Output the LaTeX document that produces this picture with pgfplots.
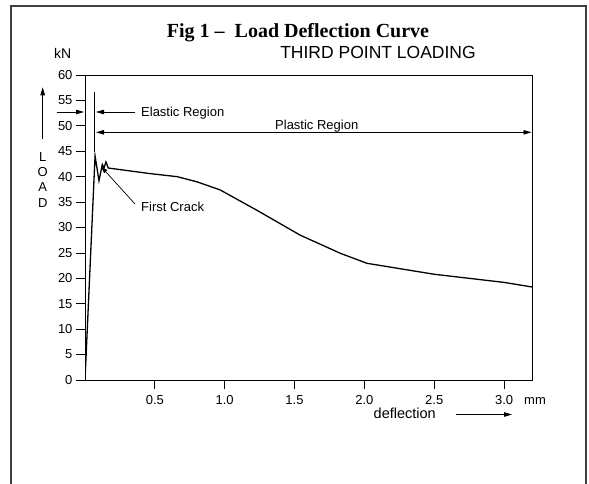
\documentclass[border=0pt]{standalone}
\usepackage{pgfplots}
\pgfplotsset{compat=1.18}
\usepackage{fontspec}
\setmainfont{Liberation Sans}
\newfontfamily\titlefont{Liberation Serif}
\usetikzlibrary{arrows.meta}

% load-deflection readings (mm, kN)
\pgfplotstableread{
x      y
0      0
0.072  44.1
0.100  39.2
0.124  42.4
0.136  41.7
0.150  42.9
0.167  41.7
0.466  40.6
0.660  40.0
0.800  39.0
0.967  37.4
1.230  33.4
1.540  28.5
1.830  24.9
2.020  22.95
2.500  20.8
3.000  19.2
3.200  18.3
}\loaddefl

\tikzset{tip/.style={-{Triangle[length=8pt,width=4.5pt]}}}

\begin{document}
\begin{tikzpicture}[x=1pt,y=1pt]
\useasboundingbox (0,0) rectangle (589,483);
\fill[white] (0,0) rectangle (589,483);
\draw[line width=2.4pt, black!75] (11,-10) -- (11,477) -- (586,477) -- (586,-10);

\begin{axis}[
  at={(85pt,103pt)}, anchor=south west,
  scale only axis, width=447pt, height=305pt,
  xmin=0, xmax=3.2, ymin=0, ymax=60,
  xtick={0.5,1,...,3}, ytick={0,5,...,60},
  xticklabel style={/pgf/number format/.cd,fixed,fixed zerofill,precision=1},
  xticklabel shift=3pt,
  /pgf/number format/assume math mode=true,
  tick align=outside, major tick length=9pt,
  xtick pos=bottom, ytick pos=left,
  tick style={black, line width=0.8pt},
  axis line style={line width=0.8pt},
  ticklabel style={font=\fontsize{13}{15}\selectfont},
]
\addplot[black, line width=1.3pt] table[x=x,y=y] {\loaddefl};
\end{axis}

\begin{scope}[shift={(0,483)}, y=-1pt]
  % title block
  \node[font=\titlefont\bfseries\fontsize{20}{23}\selectfont, anchor=base] at (298,38) {Fig 1 –\ \ Load Deflection Curve};
  \node[font=\fontsize{17.5}{20}\selectfont, anchor=base] at (378,59) {THIRD POINT LOADING};
  \node[font=\fontsize{14}{16}\selectfont, anchor=base west, inner sep=0] at (54,58.5) {kN};
  % LOAD with arrow
  \draw[line width=0.8pt, tip] (42.7,139) -- (42.7,87.3);
  \foreach \c/\yy in {L/156.7, O/172, A/187, D/202.7}
    \node[font=\fontsize{13}{15}\selectfont, inner sep=0] at (42.7,\yy) {\c};
  % elastic region
  \draw[line width=0.8pt] (94.3,91.7) -- (94.3,151.7);
  \draw[line width=0.8pt, tip] (56.7,112) -- (84,112);
  \draw[line width=0.8pt, tip] (135,112) -- (96,112);
  \node[font=\fontsize{13}{15}\selectfont, anchor=base west, inner sep=0] at (141,116.5) {Elastic Region};
  % plastic region
  \draw[line width=0.8pt, {Triangle[length=8pt,width=4.5pt]}-{Triangle[length=8pt,width=4.5pt]}] (96,132.3) -- (531.5,132.3);
  \node[font=\fontsize{13}{15}\selectfont, anchor=base west, inner sep=0] at (275,129.5) {Plastic Region};
  % first crack
  \draw[line width=0.7pt, -{Triangle[length=7pt,width=4pt]}] (135,204) -- (101,166.5);
  \node[font=\fontsize{13}{15}\selectfont, anchor=base west, inner sep=0] at (141,211) {First Crack};
  % x axis extras
  \node[font=\fontsize{13}{15}\selectfont, anchor=west, inner sep=0] at (524,400.6) {mm};
  \node[font=\fontsize{14.5}{16}\selectfont, anchor=base west, inner sep=0] at (373.5,418) {deflection};
  \draw[line width=0.8pt, tip] (456,414.5) -- (512,414.5);
\end{scope}
\end{tikzpicture}
\end{document}
